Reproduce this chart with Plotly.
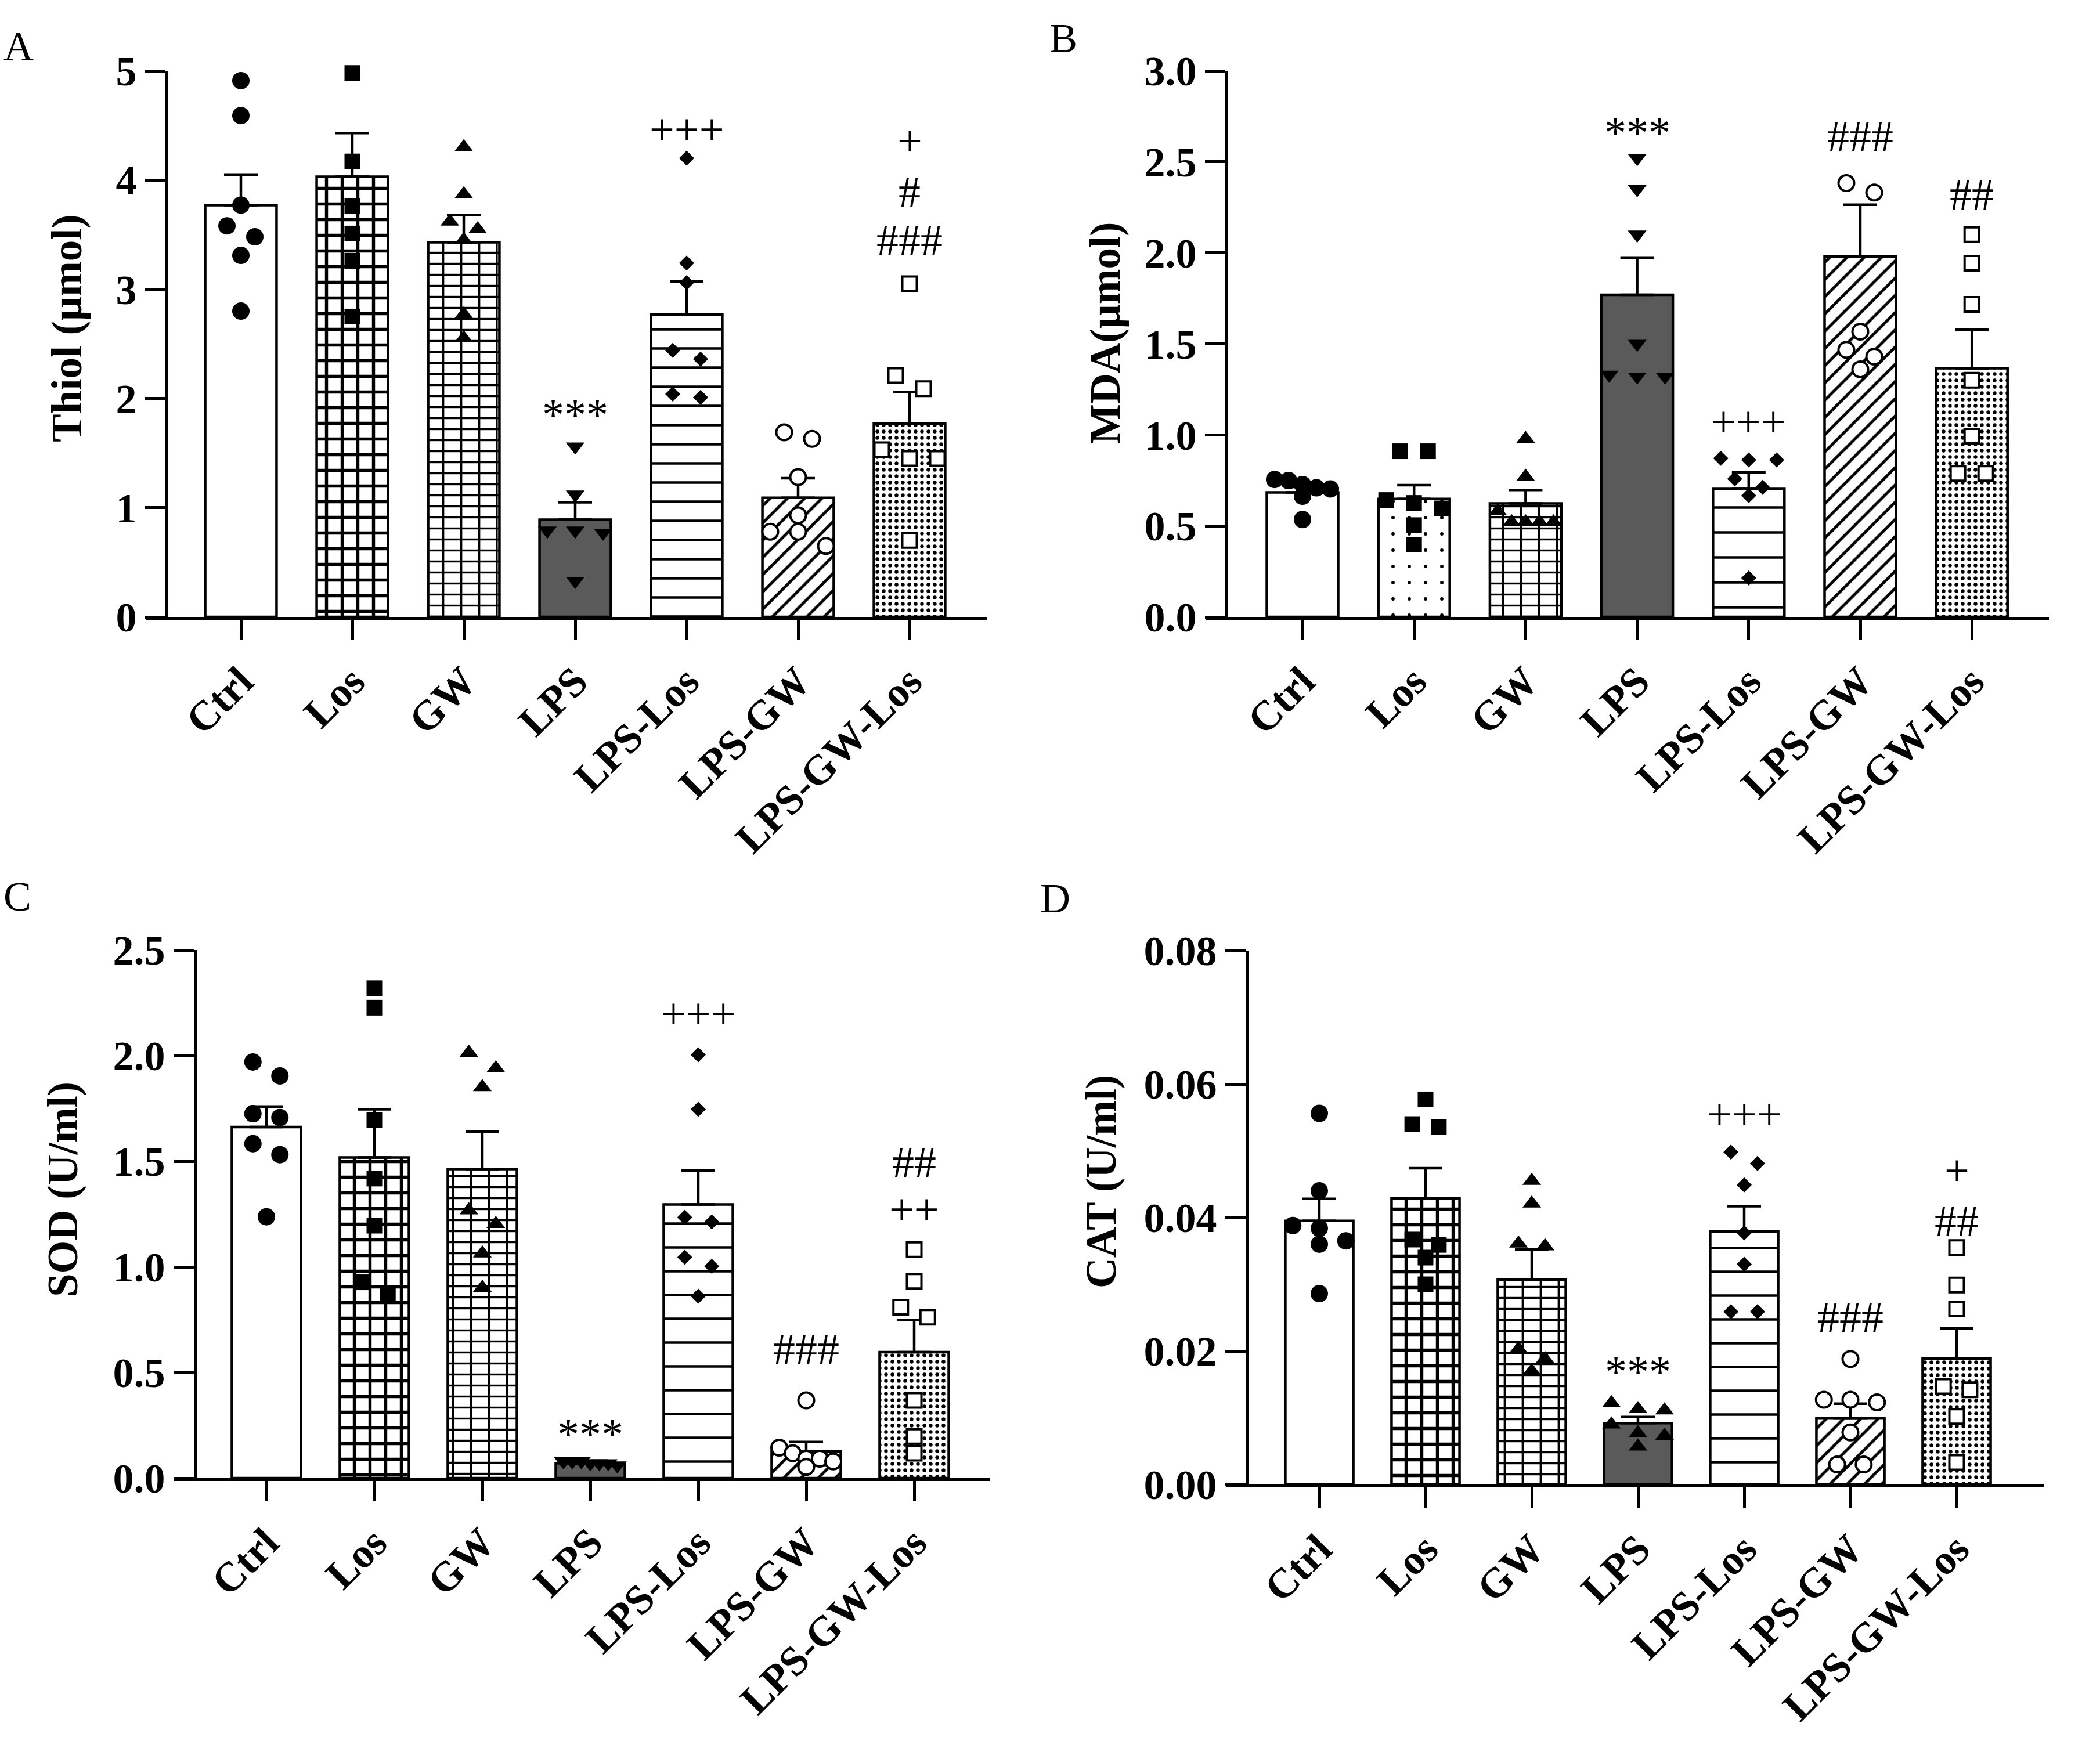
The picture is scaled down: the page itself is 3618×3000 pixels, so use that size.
import plotly.graph_objects as go

W, H = 3618, 3000
FONT = "Liberation Serif"

groups = ["Ctrl", "Los", "GW", "LPS", "LPS-Los", "LPS-GW", "LPS-GW-Los"]

# ---------------- Panel A: Thiol ----------------
thiol_mean = [3.77, 4.03, 3.43, 0.89, 2.77, 1.09, 1.77]
thiol_sem = [0.28, 0.40, 0.25, 0.16, 0.30, 0.18, 0.29]
thiol_pts = [
    [4.91, 4.59, 3.77, 3.58, 3.48, 3.31, 2.80],
    [4.98, 4.17, 3.76, 3.51, 3.26, 2.75],
    [4.30, 3.87, 3.62, 3.55, 3.45, 2.77, 2.55],
    [1.56, 1.12, 0.79, 0.79, 0.77, 0.33],
    [4.20, 3.24, 3.06, 2.44, 2.36, 2.04, 2.01],
    [1.69, 1.63, 1.28, 0.93, 0.78, 0.78, 0.65],
    [3.05, 2.21, 2.09, 1.53, 1.45, 1.45, 0.70],
]
thiol_sig_text = ["***", "+++", "+", "#", "###"]
thiol_sig_group = [3, 4, 6, 6, 6]
thiol_sig_y = [1.92, 4.45, 4.30, 3.90, 3.49]

# ---------------- Panel B: MDA ----------------
mda_mean = [0.684, 0.648, 0.623, 1.769, 0.703, 1.98, 1.366]
mda_sem = [0.03, 0.076, 0.074, 0.205, 0.091, 0.284, 0.211]
mda_pts = [
    [0.755, 0.749, 0.727, 0.709, 0.703, 0.663, 0.535],
    [0.91, 0.91, 0.642, 0.626, 0.596, 0.504, 0.397],
    [0.978, 0.77, 0.58, 0.52, 0.52, 0.52, 0.52],
    [2.52, 2.35, 2.10, 1.50, 1.33, 1.32, 1.32],
    [0.871, 0.862, 0.862, 0.758, 0.712, 0.666, 0.214],
    [2.383, 2.331, 1.567, 1.467, 1.43, 1.36],
    [2.10, 1.943, 1.717, 1.30, 0.993, 0.788, 0.788],
]
mda_sig_text = ["***", "+++", "###", "##"]
mda_sig_group = [3, 4, 5, 6]
mda_sig_y = [2.70, 1.063, 2.64, 2.32]

# ---------------- Panel C: SOD ----------------
sod_mean = [1.662, 1.518, 1.463, 0.07, 1.295, 0.126, 0.596]
sod_sem = [0.097, 0.228, 0.178, 0.008, 0.162, 0.045, 0.152]
sod_pts = [
    [1.97, 1.904, 1.725, 1.707, 1.583, 1.531, 1.237],
    [2.319, 2.227, 1.694, 1.418, 1.195, 0.927, 0.874],
    [2.014, 1.94, 1.851, 1.268, 1.203, 1.064, 0.901],
    [0.08, 0.08, 0.08, 0.07, 0.07, 0.07, 0.06],
    [2.004, 1.746, 1.234, 1.213, 1.045, 1.003, 0.861],
    [0.368, 0.144, 0.118, 0.092, 0.092, 0.079, 0.053],
    [1.082, 0.932, 0.809, 0.762, 0.368, 0.197, 0.118],
]
sod_sig_text = ["***", "+++", "###", "##", "++"]
sod_sig_group = [3, 4, 5, 6, 6]
sod_sig_y = [0.242, 2.19, 0.612, 1.47, 1.287]

# ---------------- Panel D: CAT ----------------
cat_mean = [0.0395, 0.0429, 0.0307, 0.0092, 0.0379, 0.0099, 0.0189]
cat_sem = [0.0033, 0.0045, 0.0045, 0.0009, 0.0038, 0.0022, 0.0045]
cat_pts = [
    [0.0556, 0.044, 0.0388, 0.0384, 0.0365, 0.036, 0.0286],
    [0.0577, 0.054, 0.0536, 0.0367, 0.0359, 0.034, 0.030],
    [0.0455, 0.0421, 0.0361, 0.0357, 0.0203, 0.0188, 0.017],
    [0.0122, 0.0113, 0.0111, 0.009, 0.0077, 0.0073, 0.0057],
    [0.0498, 0.0481, 0.0449, 0.0377, 0.033, 0.0259, 0.0259],
    [0.0188, 0.0127, 0.0127, 0.0123, 0.0078, 0.003, 0.003],
    [0.0355, 0.0299, 0.0263, 0.0147, 0.0142, 0.0102, 0.0033],
]
cat_sig_text = ["***", "+++", "###", "+", "##"]
cat_sig_group = [3, 4, 5, 6, 6]
cat_sig_y = [0.018, 0.0552, 0.0251, 0.0457, 0.0406]

# ---------------- layout geometry (pixels) ----------------
panels = [
    dict(letter="A", title="Thiol (\u00b5mol)", mean=thiol_mean, sem=thiol_sem, pts=thiol_pts,
         sig=(thiol_sig_text, thiol_sig_group, thiol_sig_y),
         ymax=5, dtick=1, tickfmt=".0f",
         xs=252, xe=1701, yx=287, yb=1063, yt=122, c0=415, sp=192.0,
         title_xy=(115, 566), letter_xy=(4, 80),
         los_style="grid", hline=33, lps_symbol="triangle-down"),
    dict(letter="B", title="MDA(\u00b5mol)", mean=mda_mean, sem=mda_sem, pts=mda_pts,
         sig=(mda_sig_text, mda_sig_group, mda_sig_y),
         ymax=3.0, dtick=0.5, tickfmt=".1f",
         xs=2078, xe=3530, yx=2113, yb=1063, yt=122, c0=2244, sp=192.2,
         title_xy=(1904, 574), letter_xy=(1806, 66),
         los_style="dots", hline=43, lps_symbol="triangle-down"),
    dict(letter="C", title="SOD (U/ml)", mean=sod_mean, sem=sod_sem, pts=sod_pts,
         sig=(sod_sig_text, sod_sig_group, sod_sig_y),
         ymax=2.5, dtick=0.5, tickfmt=".1f",
         xs=300, xe=1705, yx=336, yb=2547, yt=1637, c0=459, sp=186.0,
         title_xy=(108, 2050), letter_xy=(4, 1545),
         los_style="grid", hline=41, lps_symbol="triangle-down"),
    dict(letter="D", title="CAT (U/ml)", mean=cat_mean, sem=cat_sem, pts=cat_pts,
         sig=(cat_sig_text, cat_sig_group, cat_sig_y),
         ymax=0.08, dtick=0.02, tickfmt=".2f",
         xs=2112, xe=3522, yx=2148, yb=2558, yt=1638, c0=2273, sp=183.0,
         title_xy=(1897, 2036), letter_xy=(1790, 1548),
         los_style="grid", hline=41, lps_symbol="triangle-up"),
]


def swarm(values, px_per_unit, row_px=28, step=0.25, max_spread=0.25):
    order = sorted(range(len(values)), key=lambda k: -values[k])
    rows = []
    for k in order:
        if rows and (values[rows[-1][0]] - values[k]) * px_per_unit < row_px:
            rows[-1].append(k)
        else:
            rows.append([k])
    offs = [0.0] * len(values)
    for r in rows:
        n = len(r)
        if n == 1:
            continue
        w = min(step, 2 * max_spread / (n - 1))
        for j, k in enumerate(r):
            offs[k] = (j - (n - 1) / 2) * w
    return offs


def bar_styles(p):
    """fill colour and list of pattern layers for each group's bar"""
    if p["los_style"] == "grid":
        los = [dict(shape="+", size=27, solidity=0.36)]
    else:
        los = [dict(shape=".", size=28, solidity=0.035)]
    return [
        ("white", []),
        ("white", los),
        ("white", [dict(shape="-", size=19, solidity=0.18),
                   dict(shape="|", size=31, solidity=0.12)]),
        ("#5a5a5a", []),
        ("white", [dict(shape="-", size=p["hline"], solidity=4.4 / p["hline"])]),
        ("white", [dict(shape="/", size=21, solidity=0.24)]),
        ("white", [dict(shape=".", size=11, solidity=0.27)]),
    ]


fig = go.Figure()
annotations = []
BAR_W = 0.64

point_styles = [
    dict(symbol="circle", size=30, color="black", line=dict(width=0)),
    dict(symbol="square", size=27, color="black", line=dict(width=0)),
    dict(symbol="triangle-up", size=28, color="black", line=dict(width=0)),
    None,  # LPS set per panel
    dict(symbol="diamond", size=20, color="black", line=dict(width=0)),
    dict(symbol="circle", size=27, color="white", line=dict(width=4, color="black")),
    dict(symbol="square", size=25, color="white", line=dict(width=4, color="black")),
]

for i, p in enumerate(panels):
    n = i + 1
    xa = "x" if n == 1 else f"x{n}"
    ya = "y" if n == 1 else f"y{n}"
    xr = [(p["xs"] - p["c0"]) / p["sp"], (p["xe"] - p["c0"]) / p["sp"]]
    px_per_unit = (p["yb"] - p["yt"]) / p["ymax"]

    for g, (fill, layers) in enumerate(bar_styles(p)):
        base_pat = dict(fgcolor="black", bgcolor=fill, fillmode="replace", **layers[0]) if layers else dict(shape="")
        fig.add_trace(go.Bar(
            x=[g], y=[p["mean"][g]], width=BAR_W,
            xaxis=xa, yaxis=ya, showlegend=False, hoverinfo="skip",
            marker=dict(color=fill, line=dict(color="black", width=4.5), pattern=base_pat),
            error_y=dict(type="data", symmetric=False, array=[p["sem"][g]],
                         arrayminus=[0], color="black", thickness=4.5, width=29),
        ))
        for extra in layers[1:]:
            fig.add_trace(go.Bar(
                x=[g], y=[p["mean"][g]], width=BAR_W - 0.03,
                xaxis=xa, yaxis=ya, showlegend=False, hoverinfo="skip",
                marker=dict(color="rgba(0,0,0,0)", line=dict(width=0),
                            pattern=dict(fgcolor="black", bgcolor="rgba(0,0,0,0)",
                                         fillmode="replace", **extra)),
            ))

    for g, vals in enumerate(p["pts"]):
        offs = swarm(vals, px_per_unit)
        st = point_styles[g]
        if st is None:
            st = dict(symbol=p["lps_symbol"], size=28, color="black", line=dict(width=0))
        fig.add_trace(go.Scatter(
            x=[g + o for o in offs], y=vals, mode="markers",
            xaxis=xa, yaxis=ya, showlegend=False, hoverinfo="skip",
            marker=st, cliponaxis=False,
        ))

    ticks = []
    v = 0.0
    while v <= p["ymax"] + 1e-9:
        ticks.append(round(v, 6))
        v += p["dtick"]
    ticktext = [format(t, p["tickfmt"]) for t in ticks]

    fig.update_layout({
        ("xaxis" if n == 1 else f"xaxis{n}"): dict(
            domain=[p["xs"] / W, p["xe"] / W], range=xr, anchor=ya,
            tickmode="array", tickvals=list(range(len(groups))), ticktext=groups,
            tickangle=-45, ticks="outside", ticklen=35, tickwidth=5, tickcolor="black",
            showline=True, linewidth=5, linecolor="black",
            showgrid=False, zeroline=False, fixedrange=True,
            tickfont=dict(family=FONT, size=72, color="black", weight="bold"),
        ),
        ("yaxis" if n == 1 else f"yaxis{n}"): dict(
            domain=[1 - p["yb"] / H, 1 - p["yt"] / H], range=[0, p["ymax"]],
            anchor="free", position=p["yx"] / W,
            tickmode="array", tickvals=ticks, ticktext=ticktext,
            ticks="outside", ticklen=35, tickwidth=5, tickcolor="black",
            showline=True, linewidth=5, linecolor="black",
            showgrid=False, zeroline=False, fixedrange=True,
            tickfont=dict(family=FONT, size=72, color="black", weight="bold"),
        ),
    })

    # axis title
    tx, ty = p["title_xy"]
    annotations.append(dict(
        text=p["title"], xref="paper", yref="paper", x=tx / W, y=1 - ty / H,
        xanchor="center", yanchor="middle", textangle=-90, showarrow=False,
        font=dict(family=FONT, size=73, color="black", weight="bold"),
    ))
    # panel letter
    lx, ly = p["letter_xy"]
    annotations.append(dict(
        text=p["letter"], xref="paper", yref="paper", x=lx / W, y=1 - ly / H,
        xanchor="left", yanchor="middle", showarrow=False,
        font=dict(family=FONT, size=72, color="black"),
    ))
    # significance marks; marks stacked over one bar are kept at least MIN_GAP px apart
    MIN_GAP = 84
    stx, stg, sty = p["sig"]
    shifts = [0.0] * len(stx)
    for g in set(stg):
        idx = [k for k in range(len(stx)) if stg[k] == g]
        if len(idx) < 2:
            continue
        idx.sort(key=lambda k: -sty[k])
        pos = [sty[k] * px_per_unit for k in idx]
        centre = sum(pos) / len(pos)
        span_now = pos[0] - pos[-1]
        need = MIN_GAP * (len(idx) - 1)
        if span_now < need:
            for j, k in enumerate(idx):
                target = centre + need / 2 - j * MIN_GAP
                shifts[k] = target - pos[j]
    for k, (txt, g, yv) in enumerate(zip(stx, stg, sty)):
        glyph = -12 if "*" in txt else (4 if "+" in txt else 0)
        annotations.append(dict(
            text=txt, xref=xa, yref=ya, x=g, y=yv,
            xanchor="center", yanchor="middle", showarrow=False,
            yshift=glyph + shifts[k],
            font=dict(family=FONT, size=76, color="black"),
        ))

fig.update_layout(
    width=W, height=H, margin=dict(l=0, r=0, t=0, b=0),
    paper_bgcolor="white", plot_bgcolor="white",
    barmode="overlay", template="none",
    annotations=annotations,
)

fig.write_html("out.html")
